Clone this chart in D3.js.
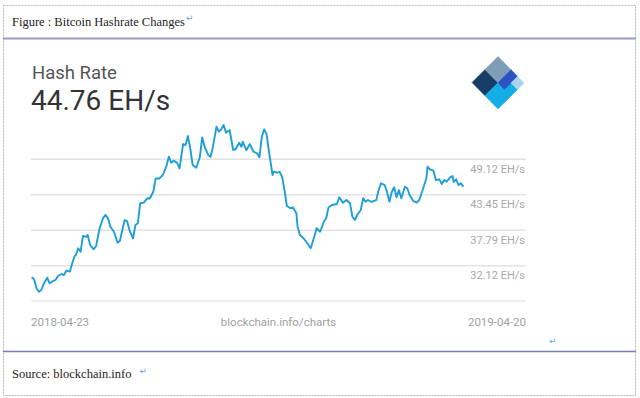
<!DOCTYPE html>
<html>
<head>
<meta charset="utf-8">
<script src="https://cdn.jsdelivr.net/npm/d3@7"></script>
<style>
  body { margin: 0; background: #fff; }
  svg { display: block; }
</style>
</head>
<body>
<div id="chart"></div>
<script>
const startDate = '2018-04-23';
const endLabel = '2019-04-20';

// days since start date
const days = [
  0, 2, 4, 6, 8, 10, 13, 15, 17, 20,
  22, 25, 27, 29, 32, 34, 36, 37, 39, 41,
  43, 46, 47, 49, 52, 54, 57, 60, 62, 64,
  66, 69, 72, 74, 76, 78, 80, 82, 85, 87,
  89, 91, 94, 97, 99, 102, 104, 107, 110, 113,
  115, 117, 119, 122, 124, 127, 129, 131, 133, 135,
  138, 141, 143, 145, 148, 150, 152, 155, 157, 159,
  161, 163, 166, 169, 171, 174, 176, 177, 180, 183,
  186, 189, 191, 193, 195, 197, 199, 202, 203, 206,
  208, 210, 212, 214, 217, 219, 222, 223, 225, 228,
  231, 234, 237, 239, 242, 245, 247, 249, 252, 256,
  258, 261, 264, 267, 269, 271, 273, 276, 278, 280,
  282, 285, 289, 291, 293, 296, 298, 300, 302, 304,
  306, 308, 310, 313, 315, 317, 320, 323, 325, 328,
  331, 332, 334, 337, 339, 342, 344, 346, 348, 351,
  353, 354, 356, 358, 360, 362
];

// hash rate in EH/s
const hashRate = [
  30.27, 29.95, 28.51, 27.97, 28.24, 29.20, 30.20, 29.31, 29.56, 29.84,
  30.47, 30.79, 30.63, 31.32, 31.16, 32.50, 33.67, 33.83, 34.90, 34.36,
  36.87, 36.75, 37.03, 35.43, 34.74, 35.27, 38.10, 39.79, 40.22, 39.69,
  38.35, 37.55, 35.80, 36.11, 37.82, 39.42, 39.26, 37.82, 36.50, 38.62,
  38.89, 42.09, 42.19, 42.89, 42.85, 43.94, 46.08, 46.05, 46.61, 48.05,
  49.54, 48.58, 48.90, 48.55, 47.68, 51.56, 51.40, 52.84, 50.88, 48.21,
  47.78, 49.44, 52.63, 51.13, 49.81, 49.54, 51.10, 54.33, 53.53, 53.91,
  54.60, 53.37, 53.80, 50.61, 50.72, 51.77, 51.13, 51.93, 50.58, 51.56,
  50.33, 50.08, 49.44, 52.73, 53.91, 53.16, 50.33, 46.61, 47.14, 46.98,
  47.10, 46.34, 44.22, 41.66, 41.29, 41.45, 40.49, 38.35, 37.03, 36.50,
  35.75, 34.90, 36.75, 38.10, 37.55, 39.15, 39.69, 41.45, 41.82, 41.98,
  43.05, 42.19, 42.62, 42.09, 39.95, 39.42, 40.22, 41.02, 42.89, 42.35,
  42.62, 42.30, 42.60, 44.22, 45.29, 45.01, 43.94, 42.35, 43.90, 44.65,
  43.05, 44.20, 42.89, 44.74, 44.49, 43.42, 42.46, 42.19, 42.60, 44.25,
  46.08, 47.94, 47.52, 47.30, 45.81, 45.92, 45.17, 45.80, 45.54, 46.24,
  46.45, 45.50, 45.92, 45.01, 45.29, 44.76
];

const gridValues = [49.12, 43.45, 37.79, 32.12];

const width = 640, height = 398;
const serif = '"Liberation Serif", "Times New Roman", serif';
const sans = 'Roboto, "Noto Sans", sans-serif';

const t0 = d3.timeParse('%Y-%m-%d')(startDate);
const data = days.map((d, i) => ({ date: d3.timeDay.offset(t0, d), value: hashRate[i] }));

const svg = d3.select('#chart').append('svg')
    .attr('width', width)
    .attr('height', height);

// document frame (dashed table borders)
svg.append('rect')
    .attr('x', 3.5).attr('y', 5.5).attr('width', 632).attr('height', 390)
    .attr('fill', 'none')
    .attr('stroke', '#b8b8b8')
    .attr('stroke-width', 1)
    .attr('stroke-dasharray', '2,1');

// little paragraph marks
function mark(px, py) {
  svg.append('text')
      .attr('x', px).attr('y', py)
      .attr('font-family', '"DejaVu Sans", sans-serif').attr('font-size', 9).attr('fill', '#6aa3e8')
      .text('↵');
}

const title = svg.append('text')
    .attr('x', 12).attr('y', 25.5)
    .attr('font-family', serif).attr('font-size', 12.5).attr('fill', '#222')
    .text('Figure : Bitcoin Hashrate Changes');
mark(12 + title.node().getComputedTextLength() + 1, 21);

svg.append('line')
    .attr('x1', 3).attr('x2', 636).attr('y1', 38.5).attr('y2', 38.5)
    .attr('stroke', '#9a9ac0').attr('stroke-width', 2);
svg.append('line')
    .attr('x1', 3).attr('x2', 636).attr('y1', 351.5).attr('y2', 351.5)
    .attr('stroke', '#7a7ab4').attr('stroke-width', 1.5);

const source = svg.append('text')
    .attr('x', 12).attr('y', 378)
    .attr('font-family', serif).attr('font-size', 12.5).attr('fill', '#222')
    .text('Source: blockchain.info');
mark(12 + source.node().getComputedTextLength() + 8, 374);
mark(549, 344);

// chart card
const left = 31, right = 526, bottom = 301;

const x = d3.scaleTime()
    .domain(d3.extent(data, d => d.date))
    .range([31.7, 463.3]);

const y = d3.scaleLinear()
    .domain([32.12, 49.12])
    .range([265.7, 159.3]);

svg.append('text')
    .attr('x', 32).attr('y', 78.5)
    .attr('font-family', sans).attr('font-size', 18.5).attr('fill', '#555')
    .text('Hash Rate');
svg.append('text')
    .attr('x', 31).attr('y', 110)
    .attr('font-family', sans).attr('font-size', 28).attr('fill', '#333')
    .text(hashRate[hashRate.length - 1].toFixed(2) + ' EH/s');

// grid
svg.append('g').selectAll('line')
    .data(gridValues)
    .join('line')
    .attr('x1', left).attr('x2', right)
    .attr('y1', d => y(d)).attr('y2', d => y(d))
    .attr('stroke', '#e3e3e3').attr('stroke-width', 1.5);

svg.append('g').selectAll('text')
    .data(gridValues)
    .join('text')
    .attr('x', right - 1)
    .attr('y', d => y(d) + 13.5)
    .attr('text-anchor', 'end')
    .attr('font-family', sans).attr('font-size', 11).attr('fill', '#a8a8a8')
    .text(d => d.toFixed(2) + ' EH/s');

svg.append('line')
    .attr('x1', left).attr('x2', right).attr('y1', bottom).attr('y2', bottom)
    .attr('stroke', '#eeeeee').attr('stroke-width', 2);

const foot = svg.append('g')
    .attr('font-family', sans).attr('font-size', 11.5).attr('fill', '#a0a0a0');
foot.append('text').attr('x', left).attr('y', 326).text(startDate);
foot.append('text').attr('x', (left + right) / 2).attr('y', 326)
    .attr('text-anchor', 'middle').text('blockchain.info/charts');
foot.append('text').attr('x', right).attr('y', 326)
    .attr('text-anchor', 'end').text(endLabel);

svg.append('path')
    .datum(data)
    .attr('fill', 'none')
    .attr('stroke', '#1e9ed9')
    .attr('stroke-width', 1.9)
    .attr('stroke-linejoin', 'round')
    .attr('d', d3.line().x(d => x(d.date)).y(d => y(d.value)));

// logo: diamond split into tiles, (u, v) run along the two upper-left edges
const L = [472, 82.5], T = [498, 56.5], B = [498, 109];
const pt = (u, v) => [L[0] + u * (T[0] - L[0]) + v * (B[0] - L[0]),
                      L[1] + u * (T[1] - L[1]) + v * (B[1] - L[1])];
const tiles = [
  { c: '#163d66', p: [[0, 0], [0.5, 0], [0.5, 0.5], [0, 0.5]] },
  { c: '#7f9db7', p: [[0.5, 0], [1, 0], [1, 0.5], [0.5, 0.5]] },
  { c: '#12aee5', p: [[0, 0.5], [1, 0.5], [1, 0.75], [0.75, 0.75], [0.75, 1], [0, 1]] },
  { c: '#2e52c1', p: [[0.5, 0.5], [1, 0.5], [1, 0.75], [0.5, 0.75]] },
  { c: '#a9d3ec', p: [[0.75, 0.75], [1, 0.75], [1, 1], [0.75, 1]] }
];
svg.append('g').selectAll('polygon')
    .data(tiles)
    .join('polygon')
    .attr('points', d => d.p.map(q => pt(q[0], q[1]).join(',')).join(' '))
    .attr('fill', d => d.c)
    .attr('stroke', d => d.c)
    .attr('stroke-width', 0.5)
    .attr('stroke-linejoin', 'round');
</script>
</body>
</html>
